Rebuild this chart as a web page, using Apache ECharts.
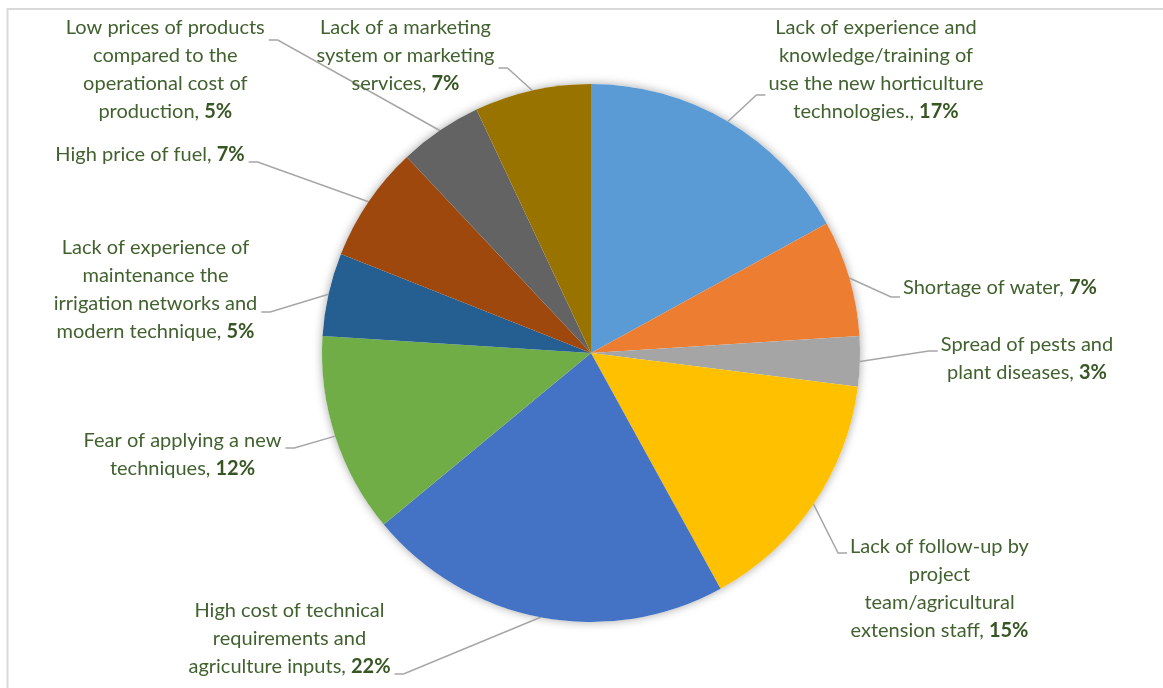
<!DOCTYPE html>
<html>
<head>
<meta charset="utf-8">
<script src="https://cdn.jsdelivr.net/npm/echarts@6/dist/echarts.min.js"></script>
<style>
html,body{margin:0;padding:0;background:#ffffff;}
#c{width:1163px;height:688px;}
</style>
</head>
<body>
<div id="c"></div>
<script>
// ---- data ----
const categories = [
  'Lack of experience and\nknowledge/training of\nuse the new horticulture\ntechnologies.',
  'Shortage of water',
  'Spread of pests and\nplant diseases',
  'Lack of follow-up by\nproject\nteam/agricultural\nextension staff',
  'High cost of technical\nrequirements and\nagriculture inputs',
  'Fear of applying a new\ntechniques',
  'Lack of experience of\nmaintenance the\nirrigation networks and\nmodern technique',
  'High price of fuel',
  'Low prices of products\ncompared to the\noperational cost of\nproduction',
  'Lack of a marketing\nsystem or marketing\nservices'
];
const values = [17, 7, 3, 15, 22, 12, 5, 7, 5, 7];

// ---- styling ----
const palette = ['#5B9BD5', '#ED7D31', '#A5A5A5', '#FFC000', '#4472C4',
                 '#70AD47', '#255E91', '#9E480E', '#636363', '#997300'];

// label placement: centre x, top y, side of the text the leader meets, leader y
const labelSpots = [
  { cx: 876,   top: 14,    side: 'left',  ly: 95 },
  { cx: 1000,  top: 274,   side: 'left',  ly: 297 },
  { cx: 1027,  top: 331,   side: 'left',  ly: 351 },
  { cx: 939.5, top: 533,   side: 'left',  ly: 553 },
  { cx: 289.5, top: 596.5, side: 'right', ly: 674 },
  { cx: 182.5, top: 426.5, side: 'right', ly: 448 },
  { cx: 155.5, top: 234,   side: 'right', ly: 312 },
  { cx: 150,   top: 140.5, side: 'right', ly: 162 },
  { cx: 165.3, top: 14,    side: 'right', ly: 40 },
  { cx: 405.5, top: 14,    side: 'right', ly: 68 }
];

const CENTER = [591, 353];
const RADIUS = 269;

const chart = echarts.init(document.getElementById('c'), null, { renderer: 'canvas' });

const pieData = categories.map((name, i) => ({
  name: name,
  value: values[i],
  itemStyle: { color: palette[i] }
}));

chart.setOption({
  animation: false,
  backgroundColor: '#ffffff',
  graphic: [{
    type: 'polyline',
    silent: true,
    shape: { points: [[7.5, 688], [7.5, 9], [1163, 9]] },
    style: { stroke: '#d9d9d9', lineWidth: 2, fill: null }
  }],
  series: [
    {
      type: 'pie',
      silent: true,
      center: CENTER,
      radius: RADIUS,
      z: 1,
      label: { show: false },
      labelLine: { show: false },
      itemStyle: { color: '#ffffff', shadowBlur: 10, shadowColor: 'rgba(0,0,0,0.35)' },
      data: [{ value: 1, name: '' }]
    },
    {
      type: 'pie',
      center: CENTER,
      radius: RADIUS,
      startAngle: 90,
      clockwise: true,
      z: 2,
      avoidLabelOverlap: false,
      itemStyle: { borderWidth: 0 },
      label: {
        show: true,
        position: 'outer',
        overflow: 'none',
        fontFamily: 'Lato',
        fontSize: 20,
        lineHeight: 28,
        color: '#41622f',
        formatter: p => p.name + ', {b|' + p.value + '%}',
        rich: {
          b: { fontFamily: 'Lato', fontSize: 20, lineHeight: 28, fontWeight: 'bold', color: '#375623' }
        }
      },
      labelLine: {
        show: true,
        length: 20,
        length2: 10,
        lineStyle: { color: '#a6a6a6', width: 1.5 }
      },
      labelLayout: function (p) {
        const s = labelSpots[p.dataIndex];
        const w = p.labelRect.width;
        let end, bend;
        if (s.side === 'left') {
          end = [s.cx - w / 2 - 3, s.ly];
          bend = [end[0] - 9, s.ly];
        } else {
          end = [s.cx + w / 2 + 4, s.ly];
          bend = [end[0] + 9, s.ly];
        }
        const res = { x: s.cx, y: s.top, align: 'center', verticalAlign: 'top' };
        if (p.labelLinePoints && p.labelLinePoints[0]) {
          res.labelLinePoints = [p.labelLinePoints[0], bend, end];
        }
        return res;
      },
      emphasis: { disabled: true },
      data: pieData
    }
  ]
});
</script>
</body>
</html>
